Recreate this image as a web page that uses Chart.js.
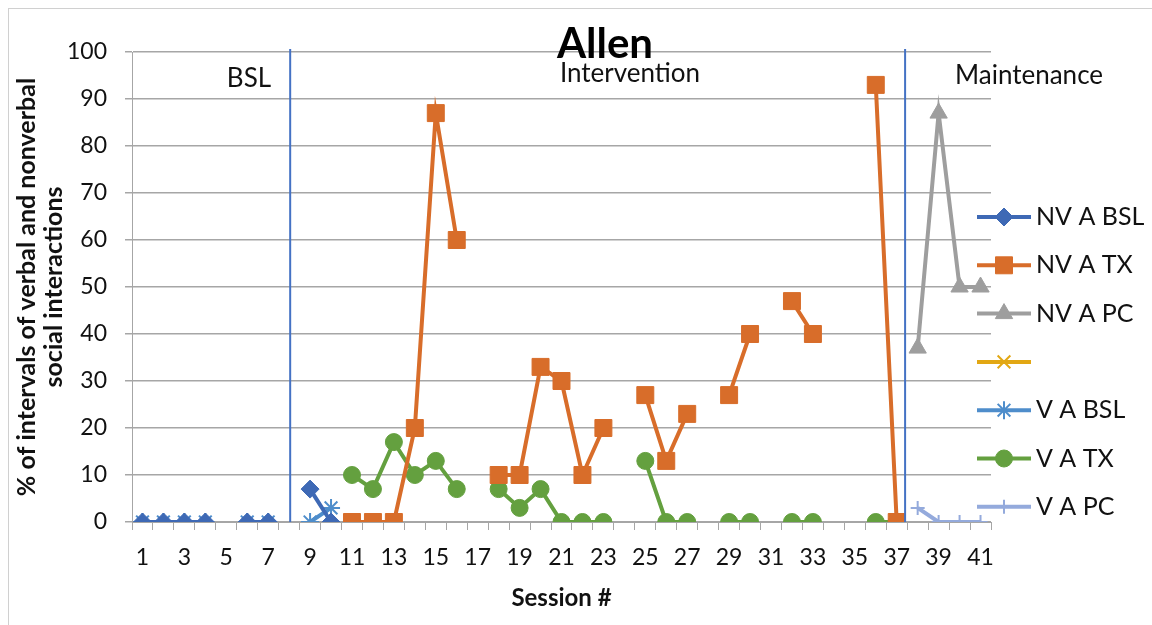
<!DOCTYPE html>
<html>
<head>
<meta charset="utf-8">
<title>Allen</title>
<script src="https://cdn.jsdelivr.net/npm/chart.js@4.4.1/dist/chart.umd.min.js"></script>
<style>
    html, body { margin: 0; padding: 0; background: #fff; }
    #wrap { width: 1152px; height: 625px; position: relative; }
</style>
</head>
<body>
<div id="wrap"><canvas id="allenChart" width="1152" height="625"></canvas></div>
<script>
/////////////////////////////////////Data/////////////////////////////////////

// Sessions 1..41 (category axis)
const sessions = Array.from({length: 41}, (_, i) => String(i + 1));

// Non-verbal series (null = no session)
const nvBsl = [0, 0, 0, 0, null, 0, 0, null, 7, 0,
    null, null, null, null, null, null, null, null, null, null,
    null, null, null, null, null, null, null, null, null, null,
    null, null, null, null, null, null, null, null, null, null, null];
const nvTx = [null, null, null, null, null, null, null, null, null, null,
    0, 0, 0, 20, 87, 60, null, 10, 10, 33,
    30, 10, 20, null, 27, 13, 23, null, 27, 40,
    null, 47, 40, null, null, 93, 0, null, null, null, null];
const nvPc = [null, null, null, null, null, null, null, null, null, null,
    null, null, null, null, null, null, null, null, null, null,
    null, null, null, null, null, null, null, null, null, null,
    null, null, null, null, null, null, null, 37, 87, 50, 50];
const blankSeries = sessions.map(() => null);

// Verbal series
const vBsl = [0, 0, 0, 0, null, 0, 0, null, 0, 3,
    null, null, null, null, null, null, null, null, null, null,
    null, null, null, null, null, null, null, null, null, null,
    null, null, null, null, null, null, null, null, null, null, null];
const vTx = [null, null, null, null, null, null, null, null, null, null,
    10, 7, 17, 10, 13, 7, null, 7, 3, 7,
    0, 0, 0, null, 13, 0, 0, null, 0, 0,
    null, 0, 0, null, null, 0, 0, null, null, null, null];
const vPc = [null, null, null, null, null, null, null, null, null, null,
    null, null, null, null, null, null, null, null, null, null,
    null, null, null, null, null, null, null, null, null, null,
    null, null, null, null, null, null, null, 3, 0, 0, 0];

// Phase change lines (category index) and phase labels
const phaseLines = [7.05, 36.4];
const phaseNames = ['BSL', 'Intervention', 'Maintenance'];

const fontFamily = 'Lato, "Open Sans", sans-serif';

////////////////////////////Datasets////////////////////////////////////////

function makeSeries(label, data, color, style, radius) {
    const thin = (style === 'star' || style === 'cross' || style === 'crossRot');
    return {
        label: label,
        data: data,
        borderColor: color,
        backgroundColor: color,
        borderWidth: 4,
        pointStyle: style,
        pointRadius: radius,
        pointHoverRadius: radius,
        pointBorderColor: color,
        pointBackgroundColor: color,
        pointBorderWidth: thin ? 2 : 1,
        spanGaps: false,
        tension: 0
    };
}

const datasets = [
    makeSeries('NV A BSL', nvBsl, '#3E69B5', 'rectRot', 9),
    makeSeries('NV A TX', nvTx, '#D86D2A', 'rect', 12),
    makeSeries('NV A PC', nvPc, '#9E9E9E', 'triangle', 10),
    makeSeries('', blankSeries, '#E2A713', 'crossRot', 9),
    makeSeries('V A BSL', vBsl, '#4E8DCB', 'star', 9),
    makeSeries('V A TX', vTx, '#64A03F', 'circle', 8.5),
    makeSeries('V A PC', vPc, '#94AADC', 'cross', 7)
];

/////////////////////Extras: phase lines, labels, legend/////////////////////

const extrasPlugin = {
    id: 'extras',
    afterDatasetsDraw(chart) {
        const ctx = chart.ctx;
        const x = chart.scales.x;
        const y = chart.scales.y;
        ctx.save();

        // phase change lines
        ctx.strokeStyle = '#4472C4';
        ctx.lineWidth = 2;
        phaseLines.forEach(p => {
            const px = x.getPixelForValue(p);
            ctx.beginPath();
            ctx.moveTo(px, y.top - 3);
            ctx.lineTo(px, y.bottom);
            ctx.stroke();
        });

        // phase labels
        ctx.fillStyle = '#111';
        ctx.font = '26px ' + fontFamily;
        ctx.textAlign = 'center';
        ctx.textBaseline = 'middle';
        ctx.fillText(phaseNames[0], 249, 79);
        ctx.fillText(phaseNames[1], 630, 74);
        ctx.fillText(phaseNames[2], 1029, 76);

        // title
        ctx.font = 'bold 42px ' + fontFamily;
        ctx.fillStyle = '#000';
        ctx.fillText('Allen', 605, 44);

        // legend (line + marker + text)
        chart.data.datasets.forEach((ds, i) => {
            const cy = 217 + i * 48.3;
            ctx.strokeStyle = ds.borderColor;
            ctx.lineWidth = 4;
            ctx.beginPath();
            ctx.moveTo(977, cy);
            ctx.lineTo(1031, cy);
            ctx.stroke();

            ctx.fillStyle = ds.pointBackgroundColor;
            ctx.strokeStyle = ds.pointBorderColor;
            ctx.lineWidth = ds.pointBorderWidth;
            Chart.helpers.drawPoint(ctx, {
                pointStyle: ds.pointStyle,
                radius: ds.pointRadius,
                rotation: 0,
                borderWidth: ds.pointBorderWidth
            }, 1004, cy);

            ctx.fillStyle = '#111';
            ctx.font = '25px ' + fontFamily;
            ctx.textAlign = 'left';
            ctx.textBaseline = 'middle';
            ctx.fillText(ds.label, 1036, cy);
        });

        // outer border
        ctx.strokeStyle = '#D0D0D0';
        ctx.lineWidth = 1;
        ctx.strokeRect(8.5, 8.5, 1160, 640);
        ctx.restore();
    }
};

//////////////////////////////Chart//////////////////////////////////////

const ctx = document.getElementById('allenChart').getContext('2d');
const myChart = new Chart(ctx, {
    type: 'line',
    data: {
        labels: sessions,
        datasets: datasets
    },
    options: {
        responsive: false,
        animation: false,
        layout: {
            padding: {left: 0, top: 52, right: 161, bottom: 0}
        },
        plugins: {
            legend: {display: false},
            title: {display: false},
            tooltip: {enabled: false}
        },
        scales: {
            x: {
                type: 'category',
                offset: true,
                grid: {
                    offset: true,
                    drawOnChartArea: false,
                    drawTicks: true,
                    tickLength: 8,
                    color: '#A6A6A6',
                    lineWidth: 1
                },
                border: {color: '#A6A6A6', width: 1},
                ticks: {
                    autoSkip: false,
                    maxRotation: 0,
                    color: '#111',
                    font: {family: fontFamily, size: 23},
                    padding: 14,
                    callback: (v, i) => (i % 2 === 0 ? sessions[i] : '')
                },
                title: {
                    display: true,
                    text: 'Session #',
                    color: '#111',
                    font: {family: fontFamily, size: 24, weight: 'bold'},
                    padding: {top: 0, bottom: 12}
                },
                afterFit: scale => { scale.height = 103; }
            },
            y: {
                min: 0,
                max: 100,
                ticks: {
                    stepSize: 10,
                    color: '#111',
                    font: {family: fontFamily, size: 23},
                    padding: 18
                },
                grid: {
                    color: '#A6A6A6',
                    lineWidth: 1.5,
                    tickLength: 7
                },
                border: {color: '#A6A6A6', width: 1},
                title: {
                    display: true,
                    text: ['% of intervals of verbal and nonverbal', 'social interactions'],
                    color: '#111',
                    font: {family: fontFamily, size: 25, weight: 'bold', lineHeight: 1.08},
                    padding: {top: 13, bottom: 0}
                },
                afterFit: scale => { scale.width = 132; }
            }
        }
    },
    plugins: [extrasPlugin]
});
</script>
</body>
</html>
